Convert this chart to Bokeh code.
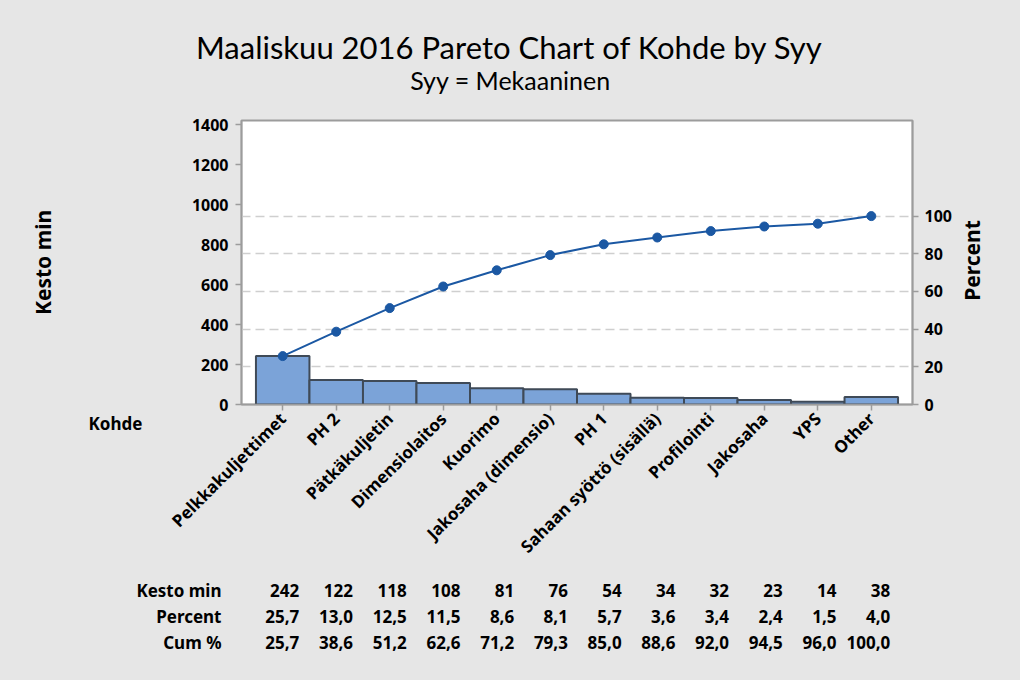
from math import pi
import numpy as np
from bokeh.plotting import figure
from bokeh.layouts import column, row
from bokeh.models import FactorRange, Range1d, LinearAxis, FixedTicker, Grid
from bokeh.core.properties import value
from bokeh.embed import file_html
from bokeh.resources import INLINE

# ---------------- data ----------------
categories = ["Pelkkakuljettimet", "PH 2", "Pätkäkuljetin", "Dimensiolaitos", "Kuorimo",
              "Jakosaha (dimensio)", "PH 1", "Sahaan syöttö (sisällä)", "Profilointi",
              "Jakosaha", "YPS", "Other"]
kesto_min = [242, 122, 118, 108, 81, 76, 54, 34, 32, 23, 14, 38]
percent = [25.7, 13.0, 12.5, 11.5, 8.6, 8.1, 5.7, 3.6, 3.4, 2.4, 1.5, 4.0]
cum_percent = [25.7, 38.6, 51.2, 62.6, 71.2, 79.3, 85.0, 88.6, 92.0, 94.5, 96.0, 100.0]
left_ticks = [0, 200, 400, 600, 800, 1000, 1200, 1400]
right_ticks = [0, 20, 40, 60, 80, 100]
row_names = ["Kesto min", "Percent", "Cum %"]
title_text = "Maaliskuu 2016 Pareto Chart of Kohde by Syy"
subtitle_text = "Syy = Mekaaninen"

total = sum(kesto_min)
cum_counts = [int(v) for v in np.cumsum(kesto_min)]

# ---------------- layout constants (canvas px) ----------------
W, H = 1020, 680
FL, FR, FT, FB = 241, 912, 120, 404      # plot frame edges
TOP_H = 105                              # title strip
MID_BOTTOM = 575                         # end of main chart strip
LEFT_W = 150                             # left text strip
RIGHT_X = 956                            # start of right text strip
YMAX = 1420
PAD = 0.27
FONT = "Noto Sans"
TITLE_FONT = "Lato"
TEXT = "#000000"
BG = "#e6e6e6"

px_per_cat = (FR - FL) / (len(categories) + 2 * PAD)


def sx(px):  # canvas px -> synthetic category x
    return -PAD + (px - FL) / px_per_cat


def strip(width, height, x_range, y_range):
    f = figure(width=width, height=height, output_backend="svg", toolbar_location=None,
               x_range=x_range, y_range=y_range, x_axis_location=None,
               y_axis_location=None, min_border=0, frame_align=False)
    f.background_fill_color = BG
    f.border_fill_color = BG
    f.outline_line_color = None
    f.grid.visible = False
    return f


def put_text(f, xs, ys, texts, font=FONT, size="17px", style="bold",
             align="left", angle=0.0):
    f.text(x=xs, y=ys, text=texts, angle=angle, text_align=align,
           text_baseline="middle", text_font=value(font),
           text_font_size=value(size), text_font_style=style, text_color=TEXT)


# ---------------- main chart ----------------
MID_H = MID_BOTTOM - TOP_H
p = figure(width=RIGHT_X - LEFT_W, height=MID_H, output_backend="svg",
           toolbar_location=None, frame_align=False,
           x_range=FactorRange(factors=categories, range_padding=PAD,
                               range_padding_units="absolute"),
           y_range=Range1d(0, YMAX),
           min_border_left=FL - LEFT_W, min_border_right=RIGHT_X - FR,
           min_border_top=FT - TOP_H, min_border_bottom=MID_BOTTOM - FB)
p.border_fill_color = BG
p.background_fill_color = "white"
p.outline_line_color = "#9c9c9c"
p.outline_line_width = 2
p.xgrid.visible = False
p.ygrid.visible = False

p.add_layout(Grid(dimension=1,
                  ticker=FixedTicker(ticks=[t * total / 100 for t in right_ticks[1:]]),
                  grid_line_color="#cfcfcf", grid_line_width=1.5,
                  grid_line_dash="9 5"))

p.vbar(x=categories, top=kesto_min, width=1.0, fill_color="#7ba3d8",
       line_color="#3f4a57", line_width=2)
p.line(x=categories, y=cum_counts, line_color="#1b58a3", line_width=2)
p.scatter(x=categories, y=cum_counts, size=9, fill_color="#1b58a3",
          line_color="#1b58a3")


def style_axis(ax):
    ax.axis_line_color = "#9c9c9c"
    ax.axis_line_width = 1.5
    ax.major_tick_line_color = "#9c9c9c"
    ax.major_tick_line_width = 1.5
    ax.major_tick_out = 6
    ax.major_tick_in = 0
    ax.minor_tick_line_color = None
    ax.major_label_text_font = FONT
    ax.major_label_text_font_style = "bold"
    ax.major_label_text_font_size = "16px"
    ax.major_label_text_color = TEXT
    ax.major_label_standoff = 7


p.yaxis.ticker = FixedTicker(ticks=left_ticks)
style_axis(p.yaxis[0])
style_axis(p.xaxis[0])
p.xaxis.major_label_orientation = pi / 4
p.xaxis.major_label_standoff = 5
p.xaxis.major_label_text_font_size = "17px"

p.extra_y_ranges = {"pct": Range1d(0, YMAX * 100 / total)}
raxis = LinearAxis(y_range_name="pct", ticker=FixedTicker(ticks=right_ticks))
style_axis(raxis)
raxis.major_label_standoff = 6
p.add_layout(raxis, "right")

# ---------------- title strip ----------------
top = strip(W, TOP_H, Range1d(0, W), Range1d(TOP_H, 0))
put_text(top, [509], [46], [title_text], font=TITLE_FONT, size="31px",
         style="normal", align="center")
put_text(top, [510], [79], [subtitle_text], font=TITLE_FONT, size="25px",
         style="normal", align="center")

# ---------------- left / right strips ----------------
left = strip(LEFT_W, MID_H, Range1d(0, LEFT_W), Range1d(MID_BOTTOM, TOP_H))
put_text(left, [42], [262], ["Kesto min"], size="21px", align="center", angle=pi / 2)
put_text(left, [88], [423], ["Kohde"], size="17px", align="left")

right = strip(W - RIGHT_X, MID_H, Range1d(RIGHT_X, W), Range1d(MID_BOTTOM, TOP_H))
put_text(right, [971], [260], ["Percent"], size="21px", align="center", angle=pi / 2)

# ---------------- table strip ----------------
def fmt(v):
    return f"{v:.1f}".replace(".", ",")


rows = [[str(v) for v in kesto_min], [fmt(v) for v in percent], [fmt(v) for v in cum_percent]]
row_py = [590, 616, 642]
bottom = strip(W, H - MID_BOTTOM, Range1d(sx(0), sx(W)), Range1d(H, MID_BOTTOM))
col_x = [i + 0.5 + 0.31 + 0.004 * i for i in range(len(categories))]
put_text(bottom, [sx(221)] * len(row_names), row_py, row_names, align="right")
for vals, yv in zip(rows, row_py):
    put_text(bottom, col_x, [yv] * len(vals), vals, align="right")

mid = row(left, p, right, styles={"background-color": BG})
layout = column(top, mid, bottom, styles={"background-color": BG})
open("out.html", "w").write(file_html(layout, INLINE))
